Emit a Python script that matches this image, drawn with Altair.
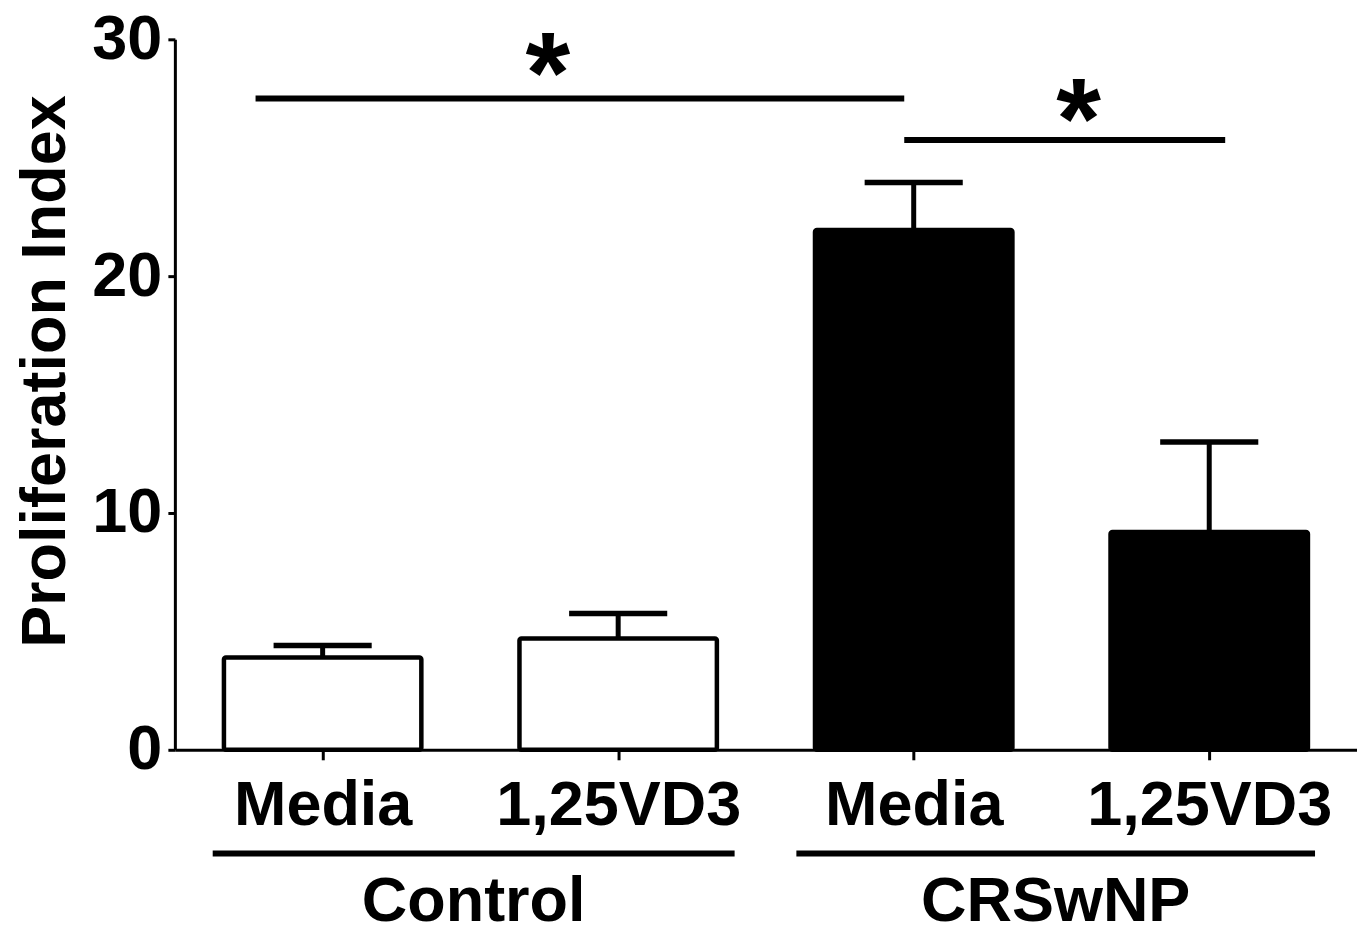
import altair as alt
import pandas as pd

# ---- data ----
groups = ["Control", "Control", "CRSwNP", "CRSwNP"]
treatments = ["Media", "1,25VD3", "Media", "1,25VD3"]
means = [3.9, 4.7, 21.95, 9.2]
sems = [0.5, 1.05, 2.0, 3.8]
bar_colors = ["white", "white", "black", "black"]

# significance brackets: (x start, x end, y level, star x, star y)
sig_x1 = [0.273, 2.468]
sig_x2 = [2.468, 3.554]
sig_y = [27.5, 25.75]
star_x = [1.262, 3.058]
star_y = [26.95, 25.0]

# group underlines and labels (below axis)
grp_names = ["Control", "CRSwNP"]
grp_x1 = [0.128, 2.103]
grp_x2 = [1.894, 3.858]
grp_line_y = -4.38
grp_label_y = -7.25

FONT = "Liberation Sans"
FS = 63
half = 0.334
cap = 0.166

bars = pd.DataFrame({
    "group": groups,
    "treatment": treatments,
    "mean": means,
    "top": [m + s for m, s in zip(means, sems)],
    "x": [i + 0.5 for i in range(len(means))],
    "color": bar_colors,
})
bars["x1"] = bars["x"] - half
bars["x2"] = bars["x"] + half
bars["c1"] = bars["x"] - cap
bars["c2"] = bars["x"] + cap

label_expr = "[" + ",".join("'%s'" % t for t in treatments) + "][floor(datum.value)]"

xscale = alt.Scale(domain=[0, 4], nice=False, zero=False)
yscale = alt.Scale(domain=[0, 30], nice=False)

xaxis = alt.Axis(values=[0.5, 1.5, 2.5, 3.5], labelExpr=label_expr, title=None,
                 grid=False, domainWidth=3, domainColor="black", tickColor="black",
                 tickWidth=3, tickSize=10, labelPadding=15, labelFont=FONT,
                 labelFontSize=FS, labelFontWeight="bold", labelColor="black",
                 labelLimit=0, labelOverlap=False)
yaxis = alt.Axis(values=[0, 10, 20, 30], title="Proliferation Index", grid=False,
                 domainWidth=3, domainColor="black", tickColor="black", tickWidth=3,
                 tickSize=7, labelPadding=6, labelFont=FONT, labelFontSize=FS,
                 labelFontWeight="bold", labelColor="black", titleFont=FONT,
                 titleFontSize=FS, titleFontWeight="bold", titleColor="black",
                 titlePadding=14, titleY=332, labelLimit=0)

base = alt.Chart(bars)

err_stem = base.mark_rule(color="black", strokeWidth=5).encode(
    x=alt.X("x:Q", scale=xscale, axis=xaxis), y=alt.Y("mean:Q", scale=yscale, axis=yaxis),
    y2="top:Q")
err_cap = base.mark_rule(color="black", strokeWidth=5.5).encode(
    x="c1:Q", x2="c2:Q", y="top:Q")
bar = base.mark_bar(stroke="black", strokeWidth=4.5, cornerRadius=2).encode(
    x="x1:Q", x2="x2:Q", y="mean:Q", y2=alt.datum(0),
    fill=alt.Fill("color:N", scale=None))

sig = pd.DataFrame({"x1": sig_x1, "x2": sig_x2, "y": sig_y, "sx": star_x, "sy": star_y})
sig_lines = alt.Chart(sig).mark_rule(color="black", strokeWidth=6).encode(
    x="x1:Q", x2="x2:Q", y="y:Q")
stars = alt.Chart(sig).mark_text(text="*", font=FONT, fontWeight="bold", fontSize=115,
                                 baseline="alphabetic", color="black").encode(
    x="sx:Q", y="sy:Q")

grp = pd.DataFrame({"name": grp_names, "x1": grp_x1, "x2": grp_x2,
                    "xc": [(a + b) / 2 for a, b in zip(grp_x1, grp_x2)],
                    "ly": [grp_line_y] * 2, "ty": [grp_label_y] * 2})
grp_lines = alt.Chart(grp).mark_rule(color="black", strokeWidth=6).encode(
    x="x1:Q", x2="x2:Q", y="ly:Q")
grp_text = alt.Chart(grp).mark_text(font=FONT, fontWeight="bold", fontSize=FS,
                                    baseline="alphabetic", color="black").encode(
    x="xc:Q", y="ty:Q", text="name:N")

chart = alt.layer(bar, err_stem, err_cap, sig_lines, stars, grp_lines, grp_text).properties(
    width=1183, height=711, background="white",
    padding={"left": 6, "top": 0, "right": 0, "bottom": 5},
).configure_view(stroke=None, strokeWidth=0)

chart.save("out.html", embed_options={"renderer": "svg", "actions": False})
